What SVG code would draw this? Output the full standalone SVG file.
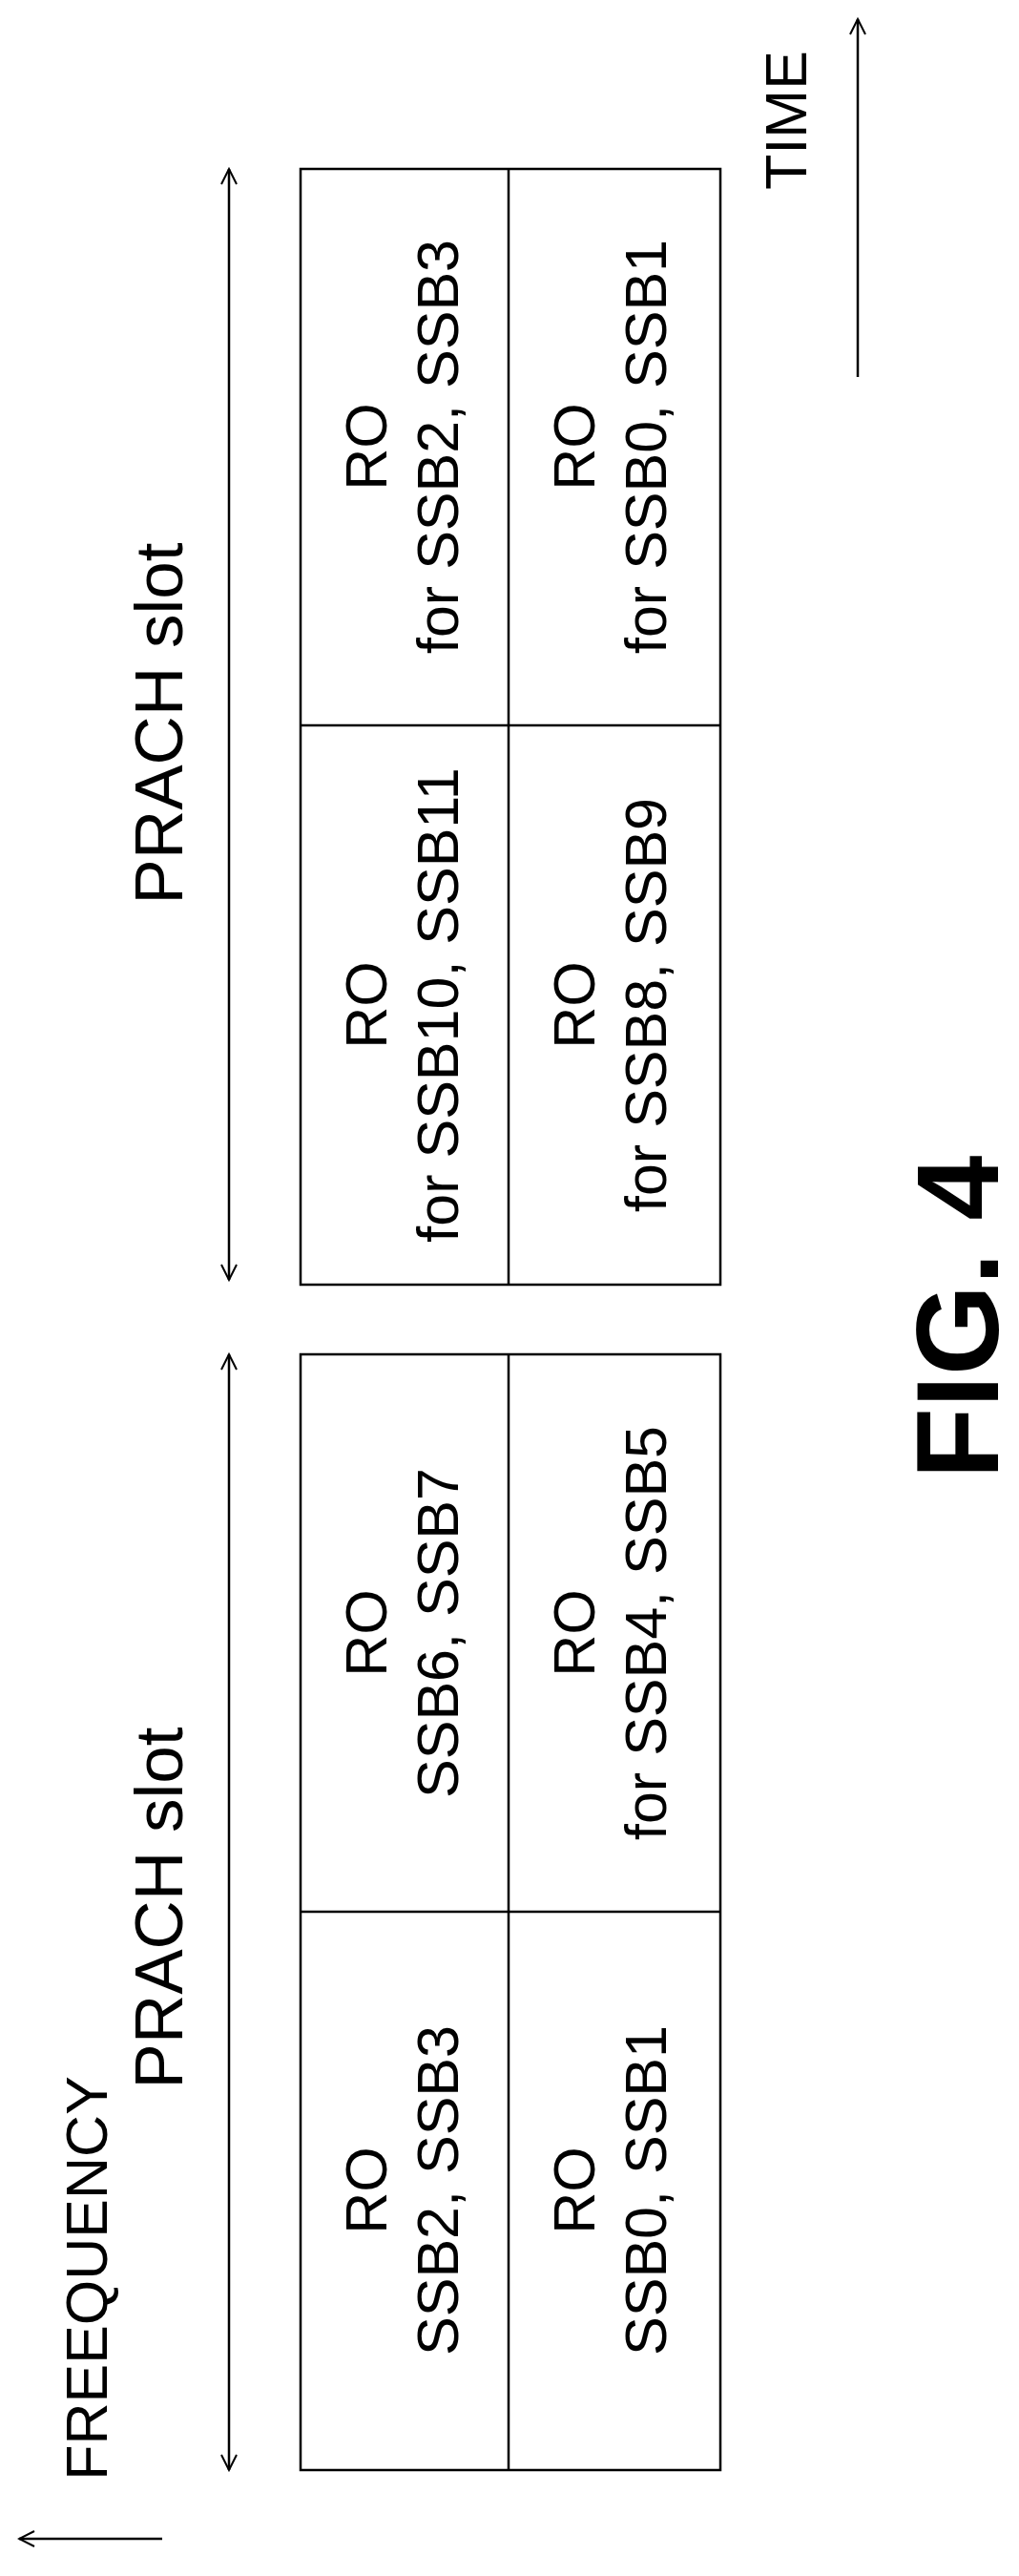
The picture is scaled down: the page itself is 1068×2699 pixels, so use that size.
<svg xmlns="http://www.w3.org/2000/svg" width="1068" height="2699" viewBox="0 0 1068 2699">
<style>
text{font-family:"Liberation Sans",Arial,sans-serif;fill:#000;text-anchor:middle}
.t{font-size:61px}
.s{font-size:71px}
.f{font-size:122px;font-weight:bold}
.b{fill:#fff;stroke:#000;stroke-width:2.5}
.c{stroke:#000;stroke-width:2.5;fill:none}
</style>
<defs>
<marker id="ah" viewBox="0 0 20 20" refX="18" refY="10" markerWidth="20" markerHeight="20" markerUnits="userSpaceOnUse" orient="auto-start-reverse">
<path d="M2,2 L18,10 L2,18" fill="none" stroke="#000" stroke-width="2"/>
</marker>
</defs>
<g id="connectors">
<line class="c" x1="240" y1="1341" x2="240" y2="177" marker-start="url(#ah)" marker-end="url(#ah)"/>
<line class="c" x1="240" y1="2588" x2="240" y2="1419" marker-start="url(#ah)" marker-end="url(#ah)"/>
<line class="c" x1="899" y1="395" x2="899" y2="20" marker-end="url(#ah)"/>
<line class="c" x1="170" y1="2660" x2="20" y2="2660" marker-end="url(#ah)"/>
</g>
<g id="labels">
<text class="s" transform="translate(191,758) rotate(-90)">PRACH slot</text>
<text class="s" transform="translate(191,1999) rotate(-90)">PRACH slot</text>
<text class="t" transform="translate(845,126) rotate(-90)">TIME</text>
<text class="t" font-size="58" transform="translate(112,2387) rotate(-90)">FREEQUENCY</text>
<text class="f" transform="translate(1046,1380) rotate(-90)">FIG. 4</text>
</g>
<g id="block1">
<rect class="b" x="315" y="177" width="440" height="1169"/>
<line class="c" x1="533" y1="177" x2="533" y2="1346"/>
<line class="c" x1="315" y1="760" x2="755" y2="760"/>
</g>
<g id="block2">
<rect class="b" x="315" y="1419" width="440" height="1169"/>
<line class="c" x1="533" y1="1419" x2="533" y2="2588"/>
<line class="c" x1="315" y1="2003" x2="755" y2="2003"/>
</g>
<g id="ro-b1-tl"><text class="t" transform="translate(405,468) rotate(-90)">RO</text><text class="t" transform="translate(480,468) rotate(-90)">for SSB2, SSB3</text></g>
<g id="ro-b1-bl"><text class="t" transform="translate(623,468) rotate(-90)">RO</text><text class="t" transform="translate(698,468) rotate(-90)">for SSB0, SSB1</text></g>
<g id="ro-b1-tr"><text class="t" transform="translate(405,1053) rotate(-90)">RO</text><text class="t" transform="translate(480,1053) rotate(-90)">for SSB10, SSB11</text></g>
<g id="ro-b1-br"><text class="t" transform="translate(623,1053) rotate(-90)">RO</text><text class="t" transform="translate(698,1053) rotate(-90)">for SSB8, SSB9</text></g>
<g id="ro-b2-tl"><text class="t" transform="translate(405,1711) rotate(-90)">RO</text><text class="t" transform="translate(480,1711) rotate(-90)">SSB6, SSB7</text></g>
<g id="ro-b2-bl"><text class="t" transform="translate(623,1711) rotate(-90)">RO</text><text class="t" transform="translate(698,1711) rotate(-90)">for SSB4, SSB5</text></g>
<g id="ro-b2-tr"><text class="t" transform="translate(405,2295) rotate(-90)">RO</text><text class="t" transform="translate(480,2295) rotate(-90)">SSB2, SSB3</text></g>
<g id="ro-b2-br"><text class="t" transform="translate(623,2295) rotate(-90)">RO</text><text class="t" transform="translate(698,2295) rotate(-90)">SSB0, SSB1</text></g>
</svg>
